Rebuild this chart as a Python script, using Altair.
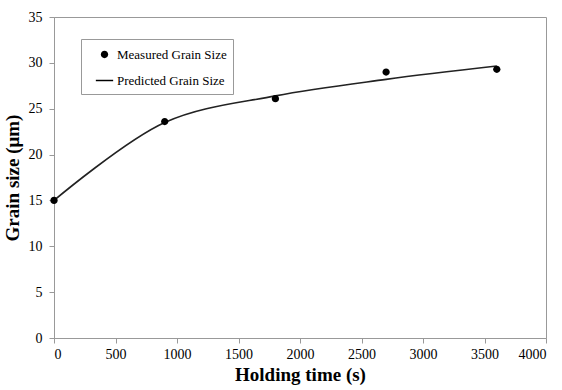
import altair as alt
import pandas as pd

# Measured grain size
meas_time = [0, 900, 1800, 2700, 3600]
meas_size = [15.0, 23.6, 26.1, 29.0, 29.3]

# Predicted grain size (smoothed line)
pred_time = [0, 900, 1800, 2700, 3600]
pred_size = [15.0, 23.5, 26.4, 28.2, 29.65]

series = ["Measured Grain Size", "Predicted Grain Size"]

x_ticks = list(range(0, 4001, 500))
y_ticks = list(range(0, 36, 5))

meas = pd.DataFrame({"t": meas_time, "g": meas_size, "s": series[0]})
pred = pd.DataFrame({"t": pred_time, "g": pred_size, "s": series[1]})

FONT = "Liberation Serif"
circle_path = "M-0.42,0A0.42,0.42 0 1,0 0.42,0A0.42,0.42 0 1,0 -0.42,0Z"
bar_path = "M-1,-0.085H1V0.085H-1Z"

x = alt.X("t:Q", scale=alt.Scale(domain=[0, 4000], nice=False),
          axis=alt.Axis(values=x_ticks, title="Holding time (s)", format="d",
                        labelFont=FONT, titleFont=FONT))
y = alt.Y("g:Q", scale=alt.Scale(domain=[0, 35], nice=False),
          axis=alt.Axis(values=y_ticks, title="Grain size (μm)", format="d",
                        labelFont=FONT, titleFont=FONT))

shape = alt.Shape(
    "s:N", scale=alt.Scale(domain=series, range=[circle_path, bar_path]),
    legend=alt.Legend(
        title=None, orient="none", legendX=27, legendY=22,
        strokeColor="#999", fillColor="white", padding=6,
        rowPadding=9, labelFont=FONT, labelFontSize=13,
        labelColor="black", symbolSize=300, symbolOffset=8,
        symbolFillColor="black", labelOffset=3,
    ))

line = alt.Chart(pred).mark_line(interpolate="catmull-rom", color="#222", strokeWidth=1.6).encode(
    x=x, y=y)
pts = alt.Chart(meas).mark_point(filled=True, fill="black", size=300, opacity=1).encode(
    x=x, y=y, shape=shape)

chart = alt.layer(line, pts).properties(
    width=492, height=321,
    autosize=alt.AutoSizeParams(type="none"),
    padding={"left": 54, "top": 17, "right": 16, "bottom": 52},
).configure_view(stroke="#999", strokeWidth=1).configure_axis(
    grid=False, domainColor="#999", tickColor="#999", tickSize=5,
    labelFont=FONT, labelFontSize=14, labelColor="black",
    titleFont=FONT, titleFontSize=19, titleFontWeight="bold", titleColor="black",
).configure_axisX(labelPadding=4, titlePadding=4).configure_axisY(labelPadding=7, titlePadding=6)

chart.save("out.html", embed_options={"renderer": "svg", "actions": False})
